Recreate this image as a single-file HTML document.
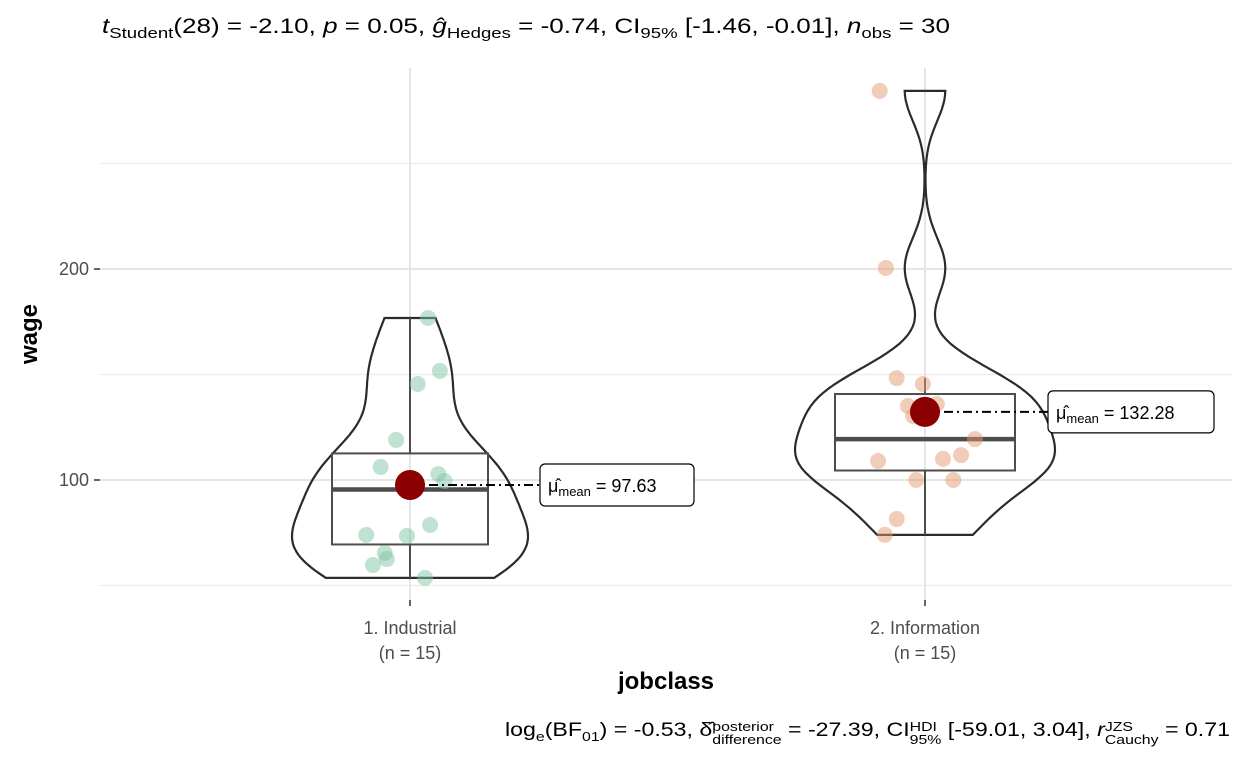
<!DOCTYPE html>
<html><head><meta charset="utf-8"><style>
body{margin:0;background:#fff;font-family:"Liberation Sans",sans-serif}
svg text{font-family:"Liberation Sans",sans-serif}
.st{display:inline-block;vertical-align:middle;line-height:13px;font-size:13px;text-align:left;position:relative;top:2px}
</style></head><body>
<svg id="c" width="1248" height="768" xmlns="http://www.w3.org/2000/svg"></svg>
<div style="position:absolute;left:0;top:0;width:1248px;height:768px;pointer-events:none">
<div id="ttl" style="position:absolute;left:102px;top:15px;font-size:21px;white-space:nowrap;transform-origin:0 0"><i>t</i><sub style="font-size:15px">Student</sub>(28) = -2.10, <i>p</i> = 0.05, <i>ĝ</i><sub style="font-size:15px">Hedges</sub> = -0.74, CI<sub style="font-size:15px">95%</sub> [-1.46, -0.01], <i>n</i><sub style="font-size:15px">obs</sub> = 30</div>
<div style="position:absolute;left:30px;top:334px;transform:translate(-50%,-50%) rotate(-90deg);font-size:24px;font-weight:bold">wage</div>
<div style="position:absolute;left:666px;top:668px;transform:translateX(-50%);font-size:24px;font-weight:bold">jobclass</div>
<div id="sub" style="position:absolute;left:505px;top:718px;font-size:19px;white-space:nowrap;transform-origin:0 0">log<sub style="font-size:13px">e</sub>(BF<sub style="font-size:13px">01</sub>) = -0.53, δ̂<span class="st">posterior<br>difference</span> = -27.39, CI<span class="st">HDI<br>95%</span> [-59.01, 3.04], <i>r</i><span class="st">JZS<br>Cauchy</span> = 0.71</div>
</div>
<script>
const categories=["1. Industrial","2. Information"];
const counts=[15,15];
const industrial=[176.8,145.5,151.7,119,106.2,102.8,99.5,78.7,73.5,74,65.4,62.6,59.7,53.6,95.5];
const information=[284.4,200.5,148.3,145.5,135.1,136,130.3,119.4,109,110,111.8,100,100,81.5,74];
const jitterX=[0.035,0.015,0.058,-0.027,-0.057,0.055,0.067,0.039,-0.006,-0.085,-0.049,-0.045,-0.072,0.029,0.0];
const jitterX2=[-0.088,-0.076,-0.055,-0.004,-0.033,0.023,-0.023,0.097,-0.091,0.035,0.070,-0.017,0.055,-0.055,-0.078];
const means=[97.63,132.28];
const yTicks=[100,200];
const gridMinor=[50,150,250];
const svg=document.getElementById('c');
const NS='http://www.w3.org/2000/svg';
const X0=100,X1=1232;
function y(v){return 269-(v-200)*2.11;}
function x(i){return 410+i*515;}
const XSCALE=515;
function mk(t,a,p){const e=document.createElementNS(NS,t);for(const k in a)e.setAttribute(k,a[k]);(p||svg).appendChild(e);return e;}
gridMinor.forEach(v=>{const l=mk('line',{x1:X0,x2:X1,y1:y(v),y2:y(v),stroke:'#ebebeb','stroke-width':1.2});

});
yTicks.forEach(v=>{const l=mk('line',{x1:X0,x2:X1,y1:y(v),y2:y(v),stroke:'#e5e5e5','stroke-width':2});


mk('line',{x1:94,x2:100,y1:y(v),y2:y(v),stroke:'#333','stroke-width':1.5});
const t=mk('text',{x:89,y:y(v)+6,'text-anchor':'end','font-size':18,fill:'#4d4d4d'});t.textContent=v;

});
categories.forEach((c,i)=>{const l=mk('line',{x1:x(i),x2:x(i),y1:68,y2:600,stroke:'#e5e5e5','stroke-width':2});


mk('line',{x1:x(i),x2:x(i),y1:600,y2:606,stroke:'#333','stroke-width':1.5});
const t=mk('text',{x:x(i),y:634,'text-anchor':'middle','font-size':18,fill:'#4d4d4d'});t.textContent=c;


const t2=mk('text',{x:x(i),y:659,'text-anchor':'middle','font-size':18,fill:'#4d4d4d'});t2.textContent='(n = '+counts[i]+')';

});
function q(a,p){const s=[...a].sort((m,n)=>m-n);const h=(s.length-1)*p,lo=Math.floor(h);return s[lo]+(s[Math.min(lo+1,s.length-1)]-s[lo])*(h-lo);}
const groups=[industrial,information];
const halfW=[118,130];
groups.forEach((d,i)=>{
 const n=d.length,mn=Math.min(...d),mx=Math.max(...d);
 const m=d.reduce((a,b)=>a+b)/n,sd=Math.sqrt(d.reduce((a,b)=>a+(b-m)**2,0)/(n-1));
 const iqr=q(d,.75)-q(d,.25);
 const bw=0.9*Math.min(sd,iqr/1.34)*Math.pow(n,-0.2);
 const pts=[];let maxd=0;
 for(let k=0;k<=100;k++){const v=mn+(mx-mn)*k/100;let s=0;d.forEach(z=>s+=Math.exp(-0.5*((v-z)/bw)**2));pts.push([v,s]);maxd=Math.max(maxd,s);}
 let p='';pts.forEach(([v,s],k)=>{p+=(k?'L':'M')+(x(i)+s/maxd*halfW[i]).toFixed(1)+','+y(v).toFixed(1);});
 for(let k=pts.length-1;k>=0;k--){const[v,s]=pts[k];p+='L'+(x(i)-s/maxd*halfW[i]).toFixed(1)+','+y(v).toFixed(1);}
 const vi=mk('path',{d:p+'Z',fill:'none',stroke:'#2b2b2b','stroke-width':2.2});
 
 
 const q1=q(d,.25),q3=q(d,.75),med=q(d,.5),I=q3-q1;
 const lw=Math.min(...d.filter(v=>v>=q1-1.5*I)),uw=Math.max(...d.filter(v=>v<=q3+1.5*I));
 const g=mk('g',{});
 mk('line',{x1:x(i),x2:x(i),y1:y(q3),y2:y(uw),stroke:'#4d4d4d','stroke-width':2},g);
 mk('line',{x1:x(i),x2:x(i),y1:y(q1),y2:y(lw),stroke:'#4d4d4d','stroke-width':2},g);
 const bx=i?90:78;
 mk('rect',{x:x(i)-bx,y:y(q3),width:2*bx,height:y(q1)-y(q3),fill:'none',stroke:'#4d4d4d','stroke-width':2},g);
 mk('line',{x1:x(i)-bx,x2:x(i)+bx,y1:y(med),y2:y(med),stroke:'#4d4d4d','stroke-width':4.5},g);
 const jx=i?jitterX2:jitterX;
 d.forEach((v,k)=>{const c=mk('circle',{cx:x(i)+jx[k]*XSCALE,cy:y(v),r:8,fill:i?'#e49a74':'#7fc6a6','fill-opacity':0.5});
 
 });
});
means.forEach((mv,i)=>{
 const lx=i?1048:540;
 const dl=mk('line',{x1:x(i),x2:lx,y1:y(mv),y2:y(mv),stroke:'#000','stroke-width':2,'stroke-dasharray':'9 4 2 4'});
 
 
 const c=mk('circle',{cx:x(i),cy:y(mv),r:15,fill:'#8b0000'});
 
 
 const w=i?166:154;
 const g=mk('g',{});
 mk('rect',{x:lx,y:y(mv)-21,width:w,height:42,rx:5,fill:'#fff',stroke:'#000','stroke-width':1.2},g);
 const t=mk('text',{x:lx+8,y:y(mv)+7,'font-size':18,fill:'#000'},g);
 t.innerHTML='μ̂<tspan font-size="13" dy="4">mean</tspan><tspan dy="-4"> = '+mv.toFixed(2)+'</tspan>';
});
function fit(id,w){const e=document.getElementById(id);const r=e.getBoundingClientRect().width;e.style.transform='scaleX('+(w/r)+')';}
fit('ttl',848);fit('sub',725);
</script>
</body></html>
